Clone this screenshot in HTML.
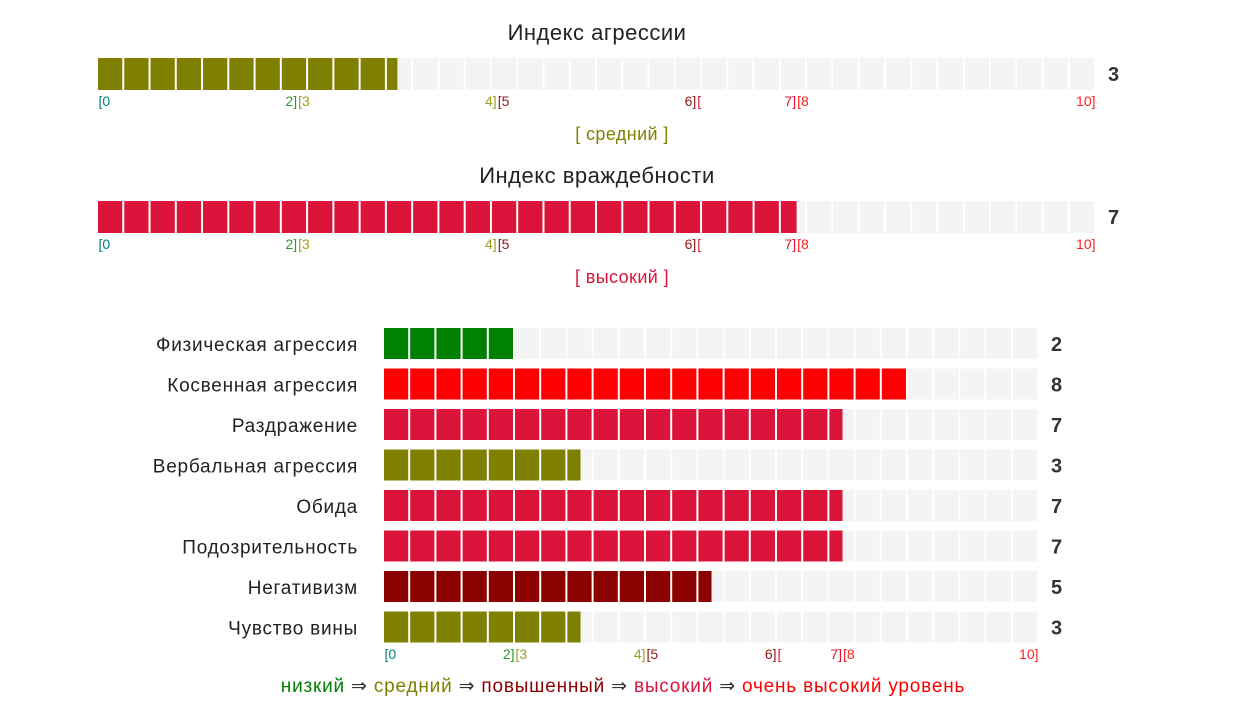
<!DOCTYPE html>
<html><head><meta charset="utf-8"><style>
body{margin:0;background:#fff;width:1252px;height:713px;overflow:hidden;font-family:"Liberation Sans","DejaVu Sans",sans-serif;}
svg text{font-family:"Liberation Sans","DejaVu Sans",sans-serif;}
</style></head><body>
<svg id="c" width="1252" height="713"></svg>
<script>
const indexNames=["Индекс агрессии","Индекс враждебности"];
const indexValues=[3,7];
const indexLevels=["[ средний ]","[ высокий ]"];
const scaleNames=["Физическая агрессия","Косвенная агрессия","Раздражение","Вербальная агрессия","Обида","Подозрительность","Негативизм","Чувство вины"];
const scaleValues=[2,8,7,3,7,7,5,3];
const tickLabels=[["[0",0,"#008080","start"],["2]",2,"#2e9b2e","end"],["[3",2,"#a0a020","start"],["4]",4,"#a0a020","end"],["[5",4,"#8b1a1a","start"],["6]",6,"#8b1a1a","end"],["[",6,"#dc143c","start"],["7]",7,"#dc143c","end"],["[8",7,"#ff2020","start"],["10]",10,"#ff2020","end"]];
const NS="http://www.w3.org/2000/svg";
const svg=document.getElementById('c');
function colorFor(v){return v<=2?"#008000":v<=4?"#808000":v<=6?"#8b0000":v<=7?"#dc143c":"#ff0000";}
function el(t,a,txt){const e=document.createElementNS(NS,t);for(const k in a)e.setAttribute(k,a[k]);if(txt!==undefined)e.textContent=txt;svg.appendChild(e);return e;}
const CELL=26.2;
function bar(x0,w,y,h,v,name){
  const sx=d=>x0+d/10*w;
  const n=Math.round(w/CELL);const cw=w/n;
  for(let i=0;i<n;i++){const r=el('rect',{x:x0+i*cw,y:y,width:cw-2,height:h,fill:'#f4f4f4'});
    
    }
  const end=sx(v);const col=colorFor(v);
  for(let i=0;i<n;i++){const a=x0+i*cw;if(a>=end-0.5)break;const b=Math.min(a+cw-2,end);
    const r=el('rect',{x:a,y:y,width:b-a,height:h,fill:col});
    
    }
  return sx;
}
function ticks(sx,y){
  tickLabels.forEach(t=>{const e=el('text',{x:sx(t[1])+(t[3]=='start'?0.5:-0.5),y:y,fill:t[2],'font-size':14,'text-anchor':t[3]},t[0]);
    
    });
}
const topY=[58,201];
indexNames.forEach((nm,i)=>{
  const y=topY[i];
  const t=el('text',{x:597,y:y-18,'font-size':22,'letter-spacing':0.5,'text-anchor':'middle',fill:'#222'},nm);
  
  
  const sx=bar(98,998,y,32,indexValues[i],'index-bar');
  const v=el('text',{x:1108,y:y+23,'font-size':20,'font-weight':'bold',fill:'#333'},indexValues[i]);
  
  
  ticks(sx,y+48);
  const l=el('text',{x:622,y:y+82,'font-size':18,'letter-spacing':0.4,'text-anchor':'middle',fill:colorFor(indexValues[i])},indexLevels[i]);
  
  
});
let sxB;
scaleNames.forEach((nm,i)=>{
  const y=328+i*40.5;
  const l=el('text',{x:358,y:y+23,'font-size':19,'letter-spacing':0.75,'text-anchor':'end',fill:'#222'},nm);
  
  
  sxB=bar(384,655,y,31,scaleValues[i],'scale-bar');
  const v=el('text',{x:1051,y:y+23,'font-size':20,'font-weight':'bold',fill:'#333'},scaleValues[i]);
  
  
});
ticks(sxB,659);
const lg=el('text',{x:623,y:692,'font-size':19,'letter-spacing':0.8,'text-anchor':'middle'});


[["низкий","#008000"],[" ⇒ ","#333"],["средний","#808000"],[" ⇒ ","#333"],["повышенный","#8b0000"],[" ⇒ ","#333"],["высокий","#dc143c"],[" ⇒ ","#333"],["очень высокий уровень","#ff0000"]].forEach(p=>{
  const s=document.createElementNS(NS,'tspan');s.setAttribute('fill',p[1]);s.textContent=p[0];lg.appendChild(s);});
</script>
</body></html>
